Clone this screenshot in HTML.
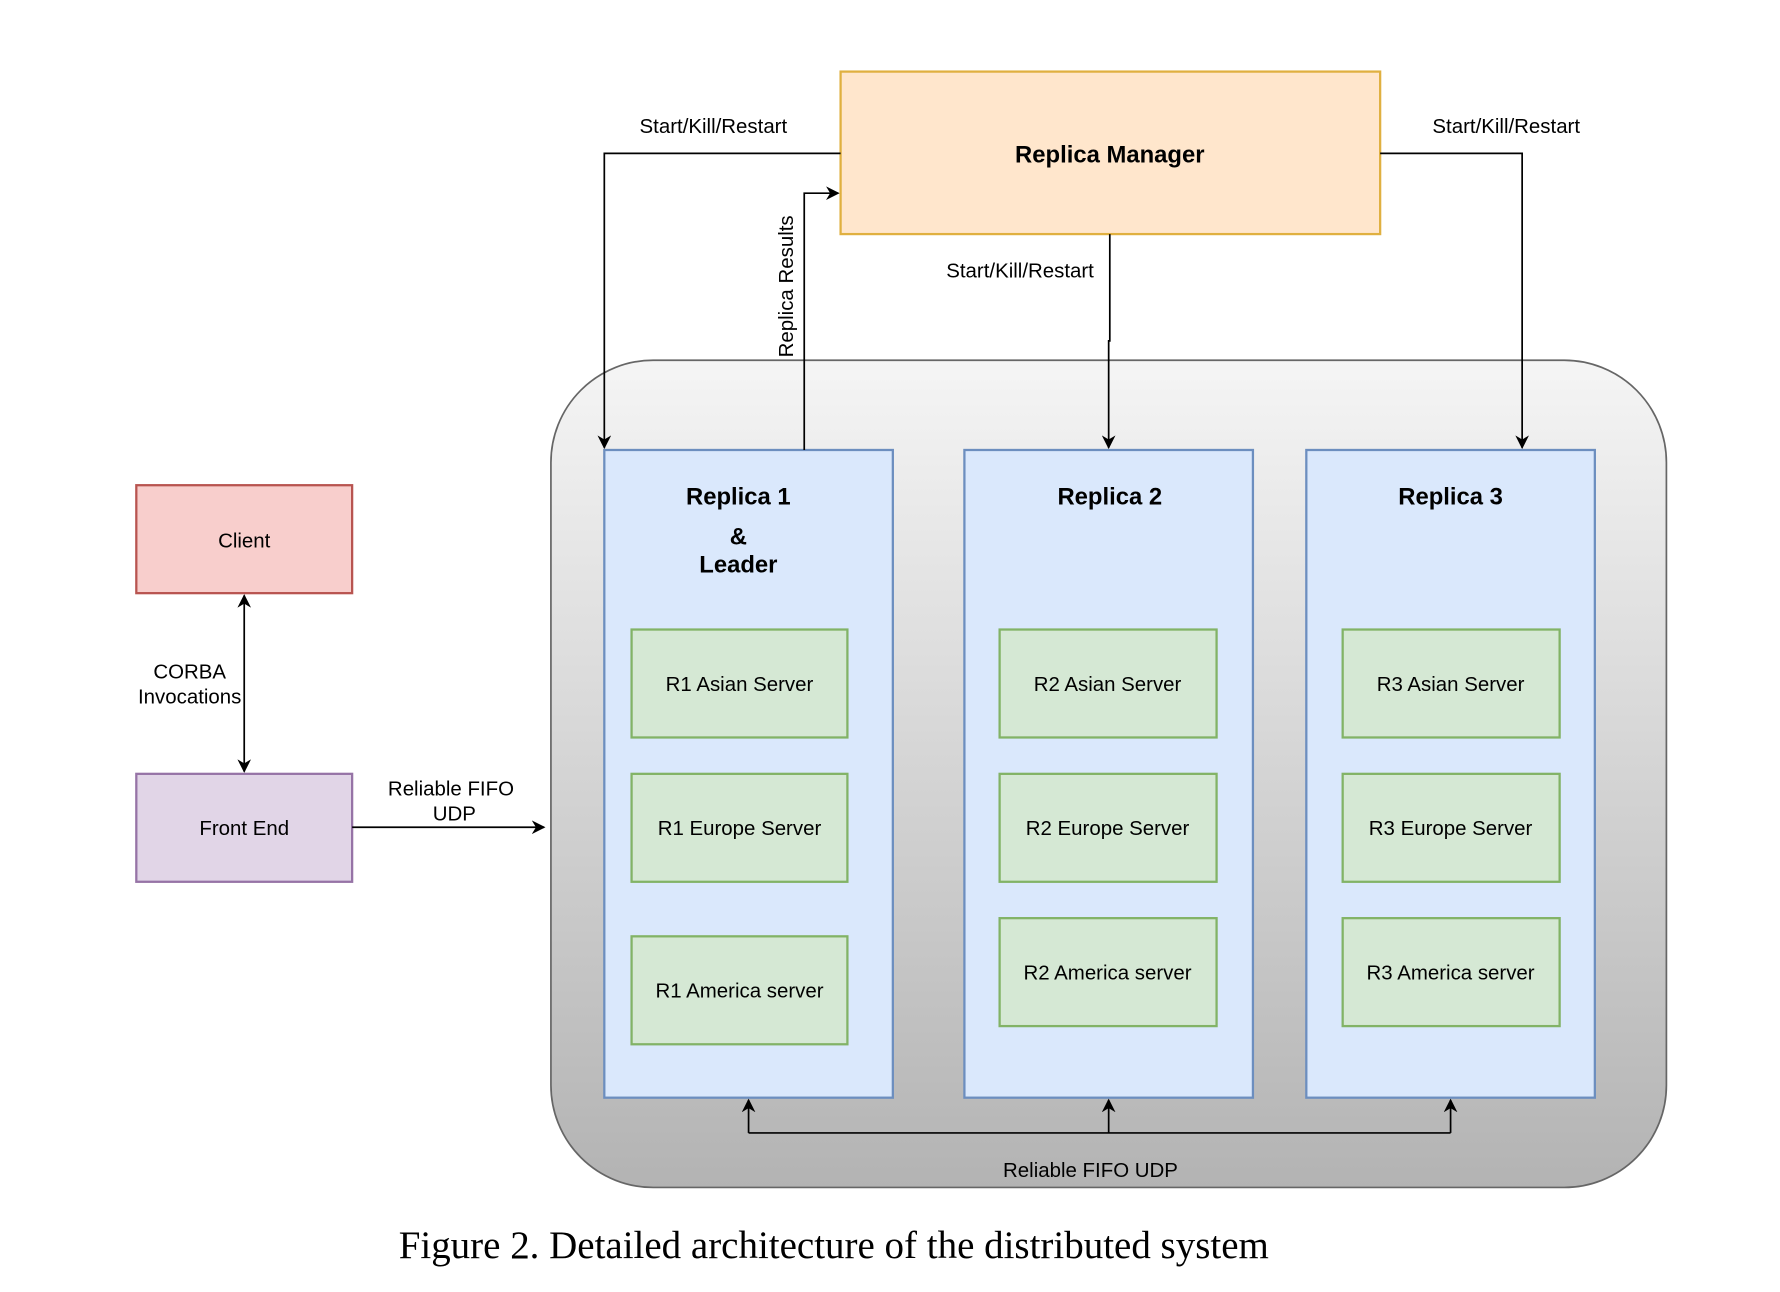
<!DOCTYPE html>
<html><head><meta charset="utf-8"><style>html,body{margin:0;padding:0;background:#fff}svg{display:block}</style></head>
<body>
<svg width="1780" height="1292" viewBox="0 0 1567 1137" preserveAspectRatio="none" xmlns="http://www.w3.org/2000/svg" font-family="Liberation Sans, sans-serif">
<defs>
<linearGradient id="g" x1="0" y1="0" x2="0" y2="1"><stop offset="0" stop-color="#f5f5f5"/><stop offset="1" stop-color="#b3b3b3"/></linearGradient>
<marker id="a" viewBox="0 0 10 10" refX="9" refY="5" markerWidth="8" markerHeight="8" orient="auto-start-reverse"><path d="M0,0 L10,5 L0,10 L3,5 z" fill="#000"/></marker>
</defs>
<rect x="485" y="317" width="982" height="728" rx="90" fill="url(#g)" stroke="#666" stroke-width="1.5"/>
<rect x="740" y="63" width="475" height="143" fill="#ffe6cc" stroke="#e0b040" stroke-width="2"/>
<text x="977" y="143" font-size="21" font-weight="bold" text-anchor="middle">Replica Manager</text>
<g fill="#dae8fc" stroke="#6c8ebf" stroke-width="2">
<rect x="532" y="396" width="254" height="570"/><rect x="849" y="396" width="254" height="570"/><rect x="1150" y="396" width="254" height="570"/>
</g>
<rect x="120" y="427" width="190" height="95" fill="#f8cecc" stroke="#b85450" stroke-width="2"/>
<rect x="120" y="681" width="190" height="95" fill="#e1d5e7" stroke="#9673a6" stroke-width="2"/>
<g font-size="21" font-weight="bold" text-anchor="middle">
<text x="650" y="444">Replica 1</text><text x="650" y="479">&amp;</text><text x="650" y="504">Leader</text>
<text x="977" y="444">Replica 2</text><text x="1277" y="444">Replica 3</text>
</g>
<g fill="#d5e8d4" stroke="#82b366" stroke-width="2">
<rect x="556" y="554" width="190" height="95"/><rect x="556" y="681" width="190" height="95"/><rect x="556" y="824" width="190" height="95"/>
<rect x="880" y="554" width="191" height="95"/><rect x="880" y="681" width="191" height="95"/><rect x="880" y="808" width="191" height="95"/>
<rect x="1182" y="554" width="191" height="95"/><rect x="1182" y="681" width="191" height="95"/><rect x="1182" y="808" width="191" height="95"/>
</g>
<g font-size="18" text-anchor="middle">
<text x="651" y="608">R1 Asian Server</text><text x="651" y="735">R1 Europe Server</text><text x="651" y="878">R1 America server</text>
<text x="975" y="608">R2 Asian Server</text><text x="975" y="735">R2 Europe Server</text><text x="975" y="862">R2 America server</text>
<text x="1277" y="608">R3 Asian Server</text><text x="1277" y="735">R3 Europe Server</text><text x="1277" y="862">R3 America server</text>
<text x="215" y="482">Client</text><text x="215" y="735">Front End</text>
<text x="167" y="597">CORBA</text><text x="167" y="619">Invocations</text>
<text x="397" y="700">Reliable FIFO</text><text x="400" y="722">UDP</text>
<text x="628" y="117">Start/Kill/Restart</text><text x="1326" y="117">Start/Kill/Restart</text>
<text x="898" y="244">Start/Kill/Restart</text>
<text x="960" y="1036">Reliable FIFO UDP</text>
<text transform="translate(698,252) rotate(-90)">Replica Results</text>
</g>
<g fill="none" stroke="#000" stroke-width="1.5">
<path d="M215,524 V679" marker-start="url(#a)" marker-end="url(#a)"/>
<path d="M310,728 H479" marker-end="url(#a)"/>
<path d="M740,135 H532 V394" marker-end="url(#a)"/>
<path d="M1215,135 H1340 V394" marker-end="url(#a)"/>
<path d="M977,206 V300 H976 V394" marker-end="url(#a)"/>
<path d="M708,396 V170 H738" marker-end="url(#a)"/>
<path d="M659,997 H1277"/>
<path d="M659,997 V968" marker-end="url(#a)"/>
<path d="M976,997 V968" marker-end="url(#a)"/>
<path d="M1277,997 V968" marker-end="url(#a)"/>
</g>
<text x="734" y="1107" font-family="Liberation Serif, serif" font-size="34" text-anchor="middle" textLength="766" lengthAdjust="spacingAndGlyphs">Figure 2. Detailed architecture of the distributed system</text>
</svg>
</body></html>
